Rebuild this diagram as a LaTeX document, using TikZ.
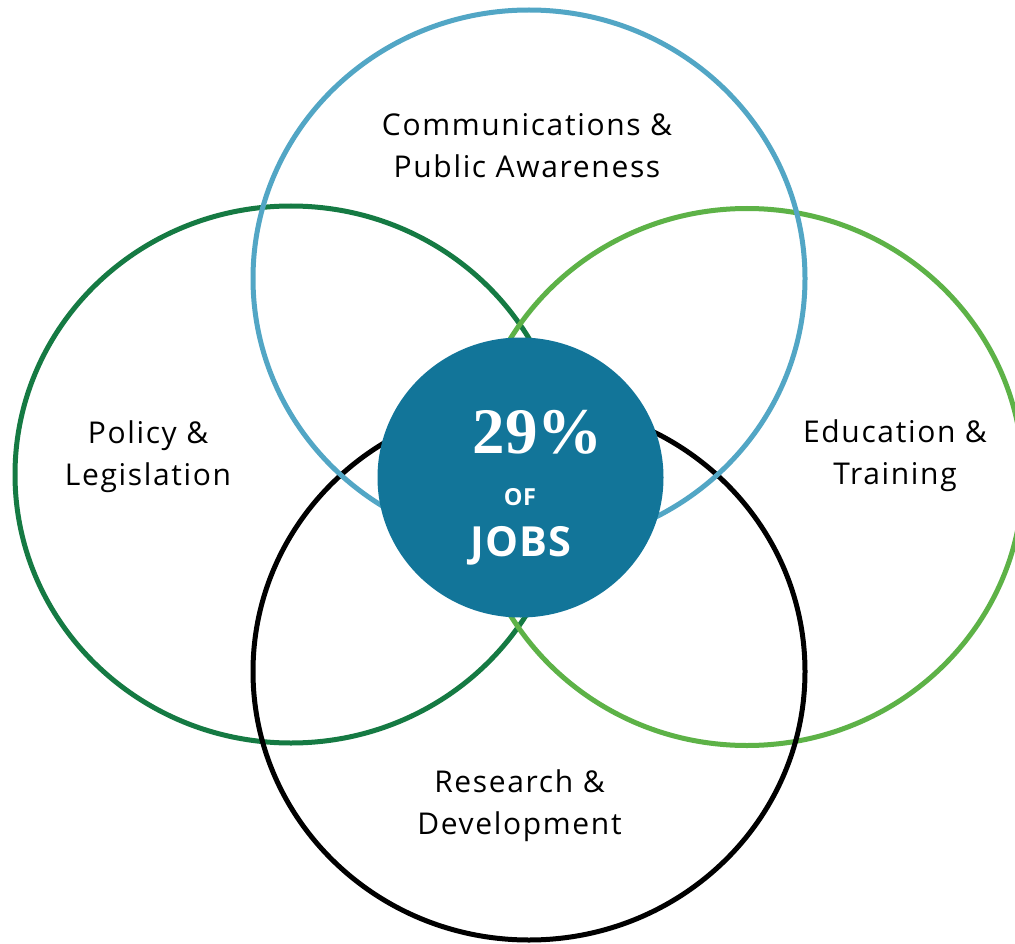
\documentclass[tikz,border=0pt]{standalone}
\usepackage{fontspec}
\setmainfont{Open Sans}
\newfontfamily\labfont{Open Sans}[LetterSpace=5.5]
\newfontfamily\hubfont{Open Sans}[LetterSpace=3]
\newfontfamily\numfont{Liberation Serif}
\definecolor{ringblue}{HTML}{52A6C5}
\definecolor{ringdkgreen}{HTML}{157A43}
\definecolor{ringltgreen}{HTML}{5DB247}
\definecolor{hubblue}{HTML}{127599}
\tikzset{
  ring/.style={line width=5pt},
  lab/.style={font=\labfont\fontsize{30}{42}\selectfont, anchor=base, inner sep=0pt, text=black},
  hubtxt/.style={anchor=base, inner sep=0pt, text=white},
}
\begin{document}
\begin{tikzpicture}[x=1pt,y=-1pt]
\useasboundingbox[fill=white] (0,0) rectangle (1015,944);
\begin{scope}
\clip (0,0) rectangle (1015,944);
\draw[ring, ringdkgreen] (291,474.5) ellipse [x radius=276pt, y radius=268.5pt];
\draw[ring, ringltgreen] (747,477) ellipse [x radius=276pt, y radius=268.5pt];
\draw[ring, black] (529,671.5) ellipse [x radius=276pt, y radius=268.5pt];
\draw[ring, ringblue] (529,278.5) ellipse [x radius=276pt, y radius=268.5pt];
\fill[hubblue] (520.5,477.5) ellipse [x radius=143pt, y radius=140pt];
\end{scope}
\node[lab] (comm1) at (527,136) {Communications \&};
\node[lab] (comm2) at (527,178) {Public Awareness};
\node[lab] (pol1) at (148,443) {Policy \&};
\node[lab] (pol2) at (148,485) {Legislation};
\node[lab] (edu1) at (895,442) {Education \&};
\node[lab] (edu2) at (895,484) {Training};
\node[lab] (res1) at (519.5,792) {Research \&};
\node[lab] (res2) at (519.5,834) {Development};
\node[hubtxt, font=\numfont\bfseries\fontsize{65}{70}\selectfont] (pct) at (537.5,453) {29\%};
\node[hubtxt, font=\hubfont\bfseries\fontsize{23.5}{26}\selectfont] (of) at (520,505) {OF};
\node[hubtxt, font=\hubfont\bfseries\fontsize{41.5}{44}\selectfont] (jobs) at (521,556) {JOBS};
\end{tikzpicture}
\end{document}
